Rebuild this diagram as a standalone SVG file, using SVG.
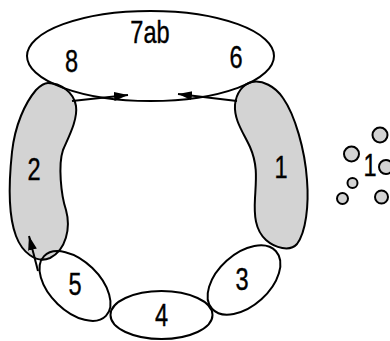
<svg xmlns="http://www.w3.org/2000/svg" width="390" height="341" viewBox="0 0 390 341">
  <style>
    .blob { fill: #d3d3d3; stroke: #000; stroke-width: 2; stroke-linejoin: round; }
    .ring { fill: none; stroke: #000; stroke-width: 2; }
    .dot { fill: #d3d3d3; stroke: #000; stroke-width: 2; }
    .edge { fill: none; stroke: #000; stroke-width: 2; marker-end: url(#head); }
    .lbl { font-family: "Liberation Sans", Arial, sans-serif; font-size: 31px; fill: #000; stroke: #000; stroke-width: 0.4; text-anchor: middle; }
  </style>
  <defs>
    <marker id="head" markerUnits="userSpaceOnUse" markerWidth="15" markerHeight="10" refX="14" refY="4.5" orient="auto">
      <path d="M0,0 L14,4.5 L0,9 Z" fill="#000"/>
    </marker>
  </defs>

  <rect width="390" height="341" fill="#fff"/>

  <!-- gray segments -->
  <g id="n2">
    <path class="blob" d="M48,83 C60,83 74,92 76,106 C78,120 68,138 63,150 C58,165 61,195 66,210 C71,228 66,250 50,258 C36,264 22,252 16,236 C8,215 9,180 12,152 C15,125 25,103 36,90 C40,86 44,83 48,83 Z"/>
    <text class="lbl" transform="translate(34 180) scale(0.76 1)">2</text>
  </g>
  <g id="n1">
    <path class="blob" d="M252,82 C262,80 275,86 283,98 C295,115 305,150 307,180 C309,205 306,232 297,244 C290,252 275,248 266,240 C255,230 254,215 255,198 C256,180 258,165 250,147 C243,132 234,120 235,105 C236,93 243,84 252,82 Z"/>
    <text class="lbl" transform="translate(281 178) scale(0.76 1)">1</text>
  </g>

  <!-- outlined segments -->
  <g id="n7">
    <ellipse class="ring" cx="150.5" cy="56" rx="123.5" ry="45"/>
    <text class="lbl" transform="translate(150 43) scale(0.76 1)">7ab</text>
    <text class="lbl" transform="translate(71.5 72) scale(0.76 1)">8</text>
    <text class="lbl" transform="translate(236 68) scale(0.76 1)">6</text>
  </g>
  <g id="n5">
    <ellipse class="ring" cx="75" cy="286" rx="43" ry="25" transform="rotate(44 75 286)"/>
    <text class="lbl" transform="translate(75 295) scale(0.76 1)">5</text>
  </g>
  <g id="n4">
    <ellipse class="ring" cx="161.5" cy="315" rx="51" ry="24"/>
    <text class="lbl" transform="translate(161.5 326) scale(0.76 1)">4</text>
  </g>
  <g id="n3">
    <ellipse class="ring" cx="244" cy="280" rx="43" ry="26" transform="rotate(-42 244 280)"/>
    <text class="lbl" transform="translate(242 290) scale(0.76 1)">3</text>
  </g>

  <!-- cluster of small spheres -->
  <g id="n1c">
    <circle class="dot" cx="380" cy="135" r="7.5"/>
    <circle class="dot" cx="351.5" cy="154" r="7.5"/>
    <circle class="dot" cx="386" cy="167" r="7"/>
    <circle class="dot" cx="352.5" cy="183" r="5"/>
    <circle class="dot" cx="342.5" cy="198.5" r="5.5"/>
    <circle class="dot" cx="381.5" cy="197" r="6.5"/>
    <text class="lbl" transform="translate(370 176) scale(0.76 1)">1</text>
  </g>

  <!-- connectors -->
  <g id="edges">
    <line class="edge" x1="72" y1="101" x2="128" y2="95"/>
    <line class="edge" x1="237" y1="101" x2="178" y2="94"/>
    <line class="edge" x1="38" y1="271" x2="29" y2="236"/>
  </g>
</svg>
